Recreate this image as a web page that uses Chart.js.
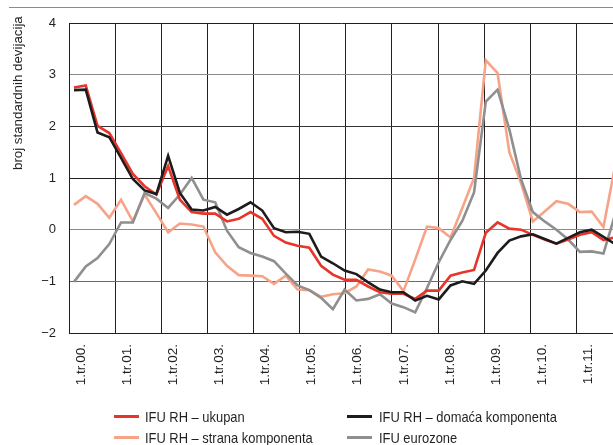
<!DOCTYPE html>
<html>
<head>
<meta charset="utf-8">
<script src="https://cdn.jsdelivr.net/npm/chart.js@4.4.1/dist/chart.umd.min.js"></script>
<style>
html,body{margin:0;padding:0;background:#fff;}
#wrap{position:relative;width:613px;height:445px;overflow:hidden;font-family:'Liberation Sans',Arial,sans-serif;color:#231f20;}
#c{position:absolute;left:0;top:0;}
#topline{position:absolute;left:9px;top:7px;width:604px;height:1px;background:#8a8a8a;}
#ytitle{position:absolute;left:11px;top:170px;font-size:13.3px;line-height:14px;white-space:nowrap;transform-origin:0 0;transform:rotate(-90deg);}
.sw{position:absolute;height:3px;}
.lt{position:absolute;font-size:15px;line-height:15px;white-space:nowrap;transform-origin:0 0;transform:scaleX(0.86);}
</style>
</head>
<body>
<div id="wrap">
<canvas id="c" width="613" height="445"></canvas>
<div id="topline"></div>
<div id="ytitle">broj standardnih devijacija</div>
<div id="legend"></div>
</div>
<script>
// Year tick labels (x axis)
const yearLabels = ['1.tr.00.','1.tr.01.','1.tr.02.','1.tr.03.','1.tr.04.','1.tr.05.','1.tr.06.','1.tr.07.','1.tr.08.','1.tr.09.','1.tr.10.','1.tr.11.'];
// Y tick values
const yTicks = [-2,-1,0,1,2,3,4];

// Series (quarterly, from 1st quarter 2000)
const ifuUkupan = [2.75,2.79,2.01,1.87,1.48,1.08,0.84,0.68,1.23,0.58,0.34,0.31,
  0.31,0.16,0.21,0.34,0.21,-0.12,-0.25,-0.31,-0.35,-0.70,-0.87,-0.97,
  -0.97,-1.10,-1.21,-1.24,-1.24,-1.34,-1.18,-1.18,-0.89,-0.83,-0.78,-0.06,
  0.14,0.02,0.00,-0.10,-0.19,-0.27,-0.19,-0.10,-0.05,-0.20,-0.15];
const ifuDomaca = [2.70,2.71,1.88,1.79,1.39,0.98,0.76,0.69,1.43,0.71,0.39,0.37,
  0.44,0.29,0.40,0.53,0.37,0.03,-0.05,-0.04,-0.08,-0.52,-0.65,-0.79,
  -0.86,-1.02,-1.16,-1.21,-1.21,-1.37,-1.28,-1.35,-1.08,-1.00,-1.05,-0.79,
  -0.45,-0.21,-0.13,-0.09,-0.18,-0.27,-0.16,-0.05,0.00,-0.14,-0.28];
const ifuStrana = [0.48,0.65,0.50,0.23,0.58,0.16,0.68,0.32,-0.05,0.12,0.10,0.06,
  -0.44,-0.70,-0.88,-0.89,-0.90,-1.05,-0.89,-1.16,-1.17,-1.30,-1.25,-1.23,
  -1.10,-0.77,-0.81,-0.89,-1.19,-0.58,0.06,0.03,-0.15,0.42,1.00,3.28,
  3.03,1.50,0.90,0.16,0.35,0.55,0.50,0.34,0.35,0.05,1.25];
const ifuEurozone = [-1.01,-0.71,-0.55,-0.28,0.14,0.14,0.71,0.60,0.42,0.68,1.00,0.58,
  0.53,-0.02,-0.34,-0.45,-0.52,-0.61,-0.85,-1.08,-1.17,-1.32,-1.54,-1.16,
  -1.37,-1.34,-1.25,-1.43,-1.50,-1.60,-1.13,-0.63,-0.20,0.17,0.72,2.48,
  2.71,1.94,0.97,0.34,0.16,0.00,-0.19,-0.43,-0.42,-0.46,0.30];

const seriesNames = ['IFU RH – ukupan','IFU RH – domaća komponenta','IFU RH – strana komponenta','IFU eurozone'];
const colors = {red:'#e8352b', black:'#1e1b1c', pink:'#f6a388', gray:'#8f8f8f'};

const FONT = "'Liberation Sans', Arial, sans-serif";
const toPts = arr => arr.map((v,i)=>({x:i,y:v}));

const gridCol = {'4':'#231f20','3':'#8a8a8a','2':'#333','1':'#231f20','0':'#8a8a8a','-1':'#6a6a6a','-2':'#231f20'};

new Chart(document.getElementById('c'), {
  type:'line',
  data:{
    datasets:[
      {label:seriesNames[1], data:toPts(ifuDomaca), borderColor:colors.black},
      {label:seriesNames[0], data:toPts(ifuUkupan), borderColor:colors.red},
      {label:seriesNames[3], data:toPts(ifuEurozone), borderColor:colors.gray},
      {label:seriesNames[2], data:toPts(ifuStrana), borderColor:colors.pink}
    ].map(d=>Object.assign(d,{xAxisID:'xq', yAxisID:'y', borderWidth:2.6, pointRadius:0, tension:0, fill:false}))
  },
  options:{
    responsive:false, animation:false, devicePixelRatio:1,
    layout:{padding:{top:23,right:0,bottom:0,left:0}},
    plugins:{legend:{display:false}, tooltip:{enabled:false}, title:{display:false}},
    scales:{
      xq:{type:'linear', display:false, min:-0.425, max:45.81},
      x:{type:'linear', position:'bottom', min:0, max:11.794,
        afterBuildTicks:s=>{ s.ticks = yearLabels.map((_,i)=>({value:i})); },
        afterFit:s=>{ s.height = 112; },
        ticks:{autoSkip:false, maxRotation:90, minRotation:90, labelOffset:12, padding:11,
          font:{family:FONT, size:13.5}, color:'#231f20',
          callback:(v)=>yearLabels[Math.round(v)] },
        grid:{color:'#231f20', lineWidth:1, drawTicks:false},
        border:{display:true, color:'#231f20', width:1}
      },
      y:{type:'linear', min:-2, max:4,
        afterBuildTicks:s=>{ s.ticks = yTicks.map(v=>({value:v})); },
        afterFit:s=>{ s.width = 69; },
        ticks:{padding:13, font:{family:FONT, size:13}, color:'#231f20',
          callback:v=>String(v).replace('-','\u2212')},
        grid:{color:ctx=>gridCol[String(ctx.tick ? ctx.tick.value : 0)] || '#231f20', lineWidth:1, drawTicks:false},
        border:{display:true, color:'#231f20', width:1}
      }
    }
  }
});

// HTML legend (two columns)
const legendItems = [
  {name:seriesNames[0], color:colors.red, x:114, tx:145, y:416.5},
  {name:seriesNames[1], color:colors.black, x:347, tx:379, y:416.5},
  {name:seriesNames[2], color:colors.pink, x:114, tx:145, y:437},
  {name:seriesNames[3], color:colors.gray, x:347, tx:379, y:437}
];
const lg = document.getElementById('legend');
legendItems.forEach(it=>{
  const s = document.createElement('div');
  s.className='sw'; s.style.left=it.x+'px'; s.style.top=(it.y-1.5)+'px'; s.style.width='25px'; s.style.background=it.color;
  lg.appendChild(s);
  const t = document.createElement('div');
  t.className='lt'; t.style.left=it.tx+'px'; t.style.top=(it.y-7.5)+'px'; t.textContent=it.name;
  lg.appendChild(t);
});
</script>
</body>
</html>
